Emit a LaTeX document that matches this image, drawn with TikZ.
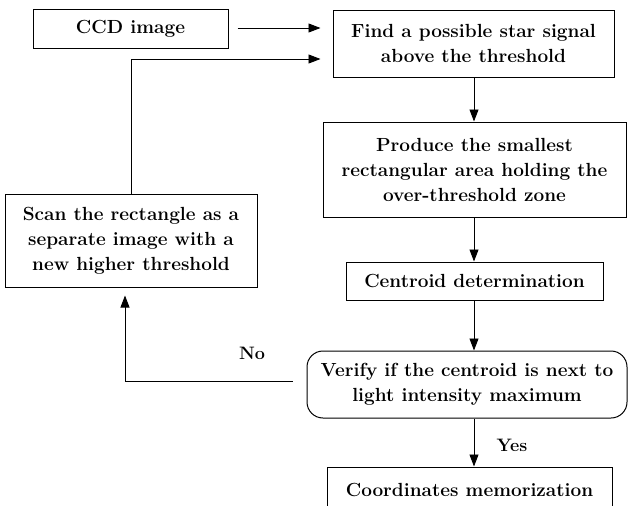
\documentclass[tikz,border=0pt]{standalone}
\usetikzlibrary{arrows.meta}
\begin{document}
\begin{tikzpicture}[x=1pt,y=-1pt,
  box/.style={draw,line width=1pt,inner sep=0pt,align=center,font=\fontsize{19}{25}\selectfont\bfseries},
  arr/.style={line width=0.9pt,-{Triangle[length=12pt,width=9pt]}},
  lbl/.style={font=\fontsize{18}{18}\selectfont\bfseries}]
\useasboundingbox (0,0) rectangle (632,506);
\node[box,minimum width=195pt,minimum height=39pt] (ccd) at (130.5,28.5) {CCD image};
\node[box,minimum width=281pt,minimum height=67pt] (find) at (473.5,43.5) {Find a possible star signal\\above the threshold};
\node[box,minimum width=303pt,minimum height=95pt] (prod) at (474.5,169.5) {Produce the smallest\\rectangular area holding the\\over-threshold zone};
\node[box,minimum width=257pt,minimum height=38pt] (cent) at (474.5,281) {Centroid determination};
\node[box,rounded corners=16pt,minimum width=320pt,minimum height=67pt] (ver) at (467,384.5) {Verify if the centroid is next to\\light intensity maximum};
\node[box,minimum width=285pt,minimum height=46pt,text depth=0pt] (coord) at (469.5,490) {Coordinates memorization};
\node[box,minimum width=252pt,minimum height=93pt] (scan) at (131,240.5) {Scan the rectangle as a\\separate image with a\\new higher threshold};
\node[lbl] (no) at (252,353) {No};
\node[lbl] (yes) at (512,445) {Yes};
\coordinate (fb) at (131,59);
\coordinate (col) at (474,0);
\draw[arr,shorten <=9pt,shorten >=12pt] (ccd.east |- 0,28) -- (find.west |- 0,28);
\draw[arr,shorten >=12pt] (scan.north) -- (fb) -- (find.west |- fb);
\draw[arr,shorten <=14pt,shorten >=8pt] (ver.west |- 0,381) -| (scan.south -| 125,0);
\draw[arr] (col |- find.south) -- (col |- prod.north);
\draw[arr] (col |- prod.south) -- (col |- cent.north);
\draw[arr] (col |- cent.south) -- (col |- ver.north);
\draw[arr] (col |- ver.south) -- (col |- coord.north);
\end{tikzpicture}
\end{document}
